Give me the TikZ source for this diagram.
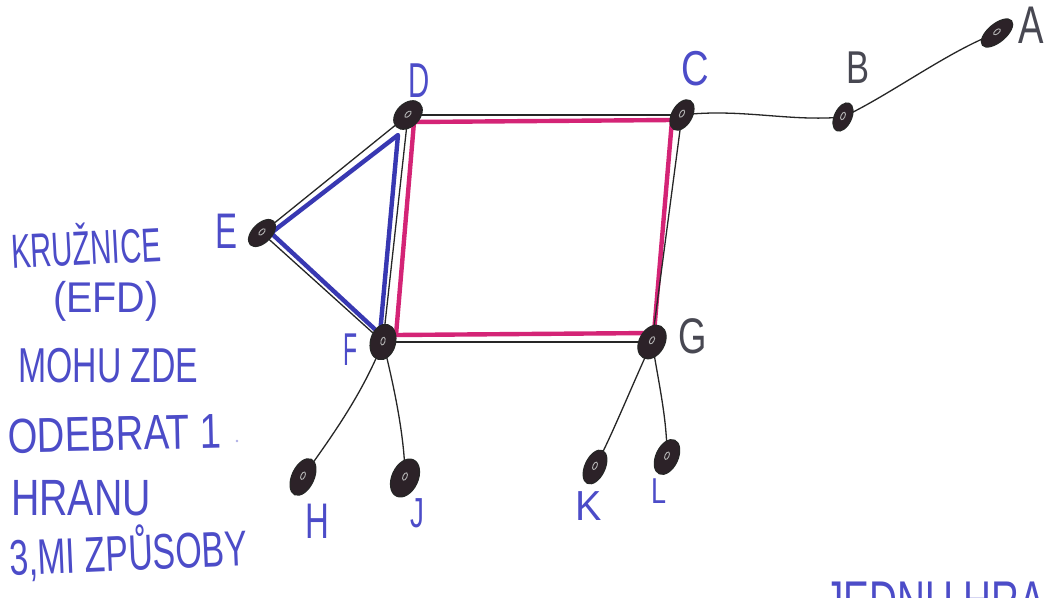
\documentclass[tikz,border=0pt]{standalone}
\usepackage{fontspec}
\setmainfont{Liberation Sans}
\usetikzlibrary{shapes.geometric,calc}
\pgfdeclarelayer{background}
\pgfsetlayers{background,main}
\definecolor{ink}{RGB}{76,76,200}
\definecolor{mag}{RGB}{212,36,118}
\definecolor{bluehl}{RGB}{56,56,178}
\definecolor{vfill}{RGB}{44,34,40}
\definecolor{pencil}{RGB}{38,38,38}
\definecolor{graylab}{RGB}{72,72,82}
\newcommand\hw[3]{\scalebox{#1}[1]{\fontsize{#2}{#2}\selectfont #3}}
\tikzset{
  vtx/.style={ellipse, fill=vfill, draw=pencil, line width=1.2pt, inner sep=0pt,
    path picture={\draw[gray!60, line width=0.9pt] (path picture bounding box.center) ellipse (4pt and 2pt);}},
  txt/.style={inner sep=0pt, text=ink, anchor=base west},
  lab/.style={inner sep=0pt, text=ink, anchor=base west},
  edge/.style={draw=pencil, line width=1.3pt},
  maghl/.style={draw=mag, line width=4.4pt, line join=round, line cap=round},
  bluehl/.style={draw=bluehl, line width=4.4pt, line join=round, line cap=round}
}
\begin{document}
\begin{tikzpicture}[x=1pt,y=-1pt]
\useasboundingbox (0,0) rectangle (1044,597);
\clip (0,0) rectangle (1044,597);

% vertices
\node[vtx, minimum width=38pt, minimum height=18pt, rotate=40] (A) at (997,33) {};
\node[vtx, minimum width=30pt, minimum height=17pt, rotate=65] (B) at (843,117) {};
\node[vtx, minimum width=33pt, minimum height=20pt, rotate=60] (C) at (682,115) {};
\node[vtx, minimum width=33pt, minimum height=23pt, rotate=45] (D) at (408,115) {};
\node[vtx, minimum width=33pt, minimum height=19pt, rotate=45] (E) at (262,233) {};
\node[vtx, minimum width=36pt, minimum height=25pt, rotate=75] (F) at (383,342) {};
\node[vtx, minimum width=36pt, minimum height=25pt, rotate=60] (G) at (652,342) {};
\node[vtx, minimum width=39pt, minimum height=22pt, rotate=65] (H) at (303,477) {};
\node[vtx, minimum width=40pt, minimum height=26pt, rotate=65] (J) at (405,478) {};
\node[vtx, minimum width=36pt, minimum height=20pt, rotate=65] (K) at (595,467) {};
\node[vtx, minimum width=37pt, minimum height=22pt, rotate=65] (L) at (667,457) {};

\begin{pgfonlayer}{background}
  \fill[white] (0,0) rectangle (1044,597);
  \draw[maghl] ([shift={(6,7)}]D.center) -- ([shift={(-10,5)}]C.center)
     -- ([shift={(2,-9)}]G.center) -- ([shift={(13,-7)}]F.center) -- cycle;
  \draw[bluehl] ([shift={(-10,20)}]D.center) -- ([shift={(9,0)}]E.center)
     -- ([shift={(-3,-8)}]F.center) -- cycle;
  \draw[edge] (D.center) -- (C.center);
  \draw[edge] (C.center) -- (G.center);
  \draw[edge] (G.center) -- (F.center);
  \draw[edge] (F.center) -- (D.center);
  \draw[edge] (D.center) -- (E.center);
  \draw[edge] (E.center) -- (F.center);
  \draw[edge] (C.center) .. controls (740,108) and (790,122) .. (B.center);
  \draw[edge] (B.center) .. controls (890,95) and (950,50) .. (A.center);
  \draw[edge] (F.center) .. controls (360,400) and (325,445) .. (H.center);
  \draw[edge] (F.center) .. controls (395,390) and (405,440) .. (J.center);
  \draw[edge] (G.center) .. controls (630,390) and (610,440) .. (K.center);
  \draw[edge] (G.center) .. controls (660,390) and (667,420) .. (L.center);
\end{pgfonlayer}

% vertex labels
\node[lab] (lD) at (408,97) {\hw{0.6}{49}{D}};
\node[lab] (lC) at (681,85) {\hw{0.78}{49}{C}};
\node[lab, text=graylab] (lB) at (846,83) {\hw{0.75}{46}{B}};
\node[lab, text=graylab] (lA) at (1018,43) {\hw{0.72}{53}{A}};
\node[lab] (lE) at (215,248) {\hw{0.66}{50}{E}};
\node[lab] (lF) at (343,365) {\hw{0.5}{46}{F}};
\node[lab, text=graylab] (lG) at (678,353) {\hw{0.73}{50}{G}};
\node[lab] (lH) at (305,538) {\hw{0.66}{50}{H}};
\node[lab] (lJ) at (410,527) {\hw{0.66}{42}{J}};
\node[lab] (lK) at (575,520) {\hw{0.94}{42}{K}};
\node[lab] (lL) at (651,503) {\hw{0.75}{36}{L}};

% left note
\node[txt, rotate=3] (t1) at (12,269) {\hw{0.61}{48}{KRUŽNICE}};
\node[txt] (t2) at (53,312) {\hw{0.92}{43}{(EFD)}};
\node[txt] (t3) at (18,382) {\hw{0.69}{49}{MOHU ZDE}};
\node[txt, rotate=1.3] (t4) at (8,453) {\hw{0.78}{49}{ODEBRAT 1}};
\node[txt] (t5) at (11,515) {\hw{0.77}{51}{HRANU}};
\node[txt, rotate=2.5] (t6) at (10,576) {\hw{0.68}{50}{3,MI ZPŮSOBY}};
\fill[ink!45] (237,441) circle (1.3);

% cut-off text at the bottom edge
\node[txt] (t7) at (824,620) {\hw{0.69}{56}{JEDNU HRA}};
\end{tikzpicture}
\end{document}
